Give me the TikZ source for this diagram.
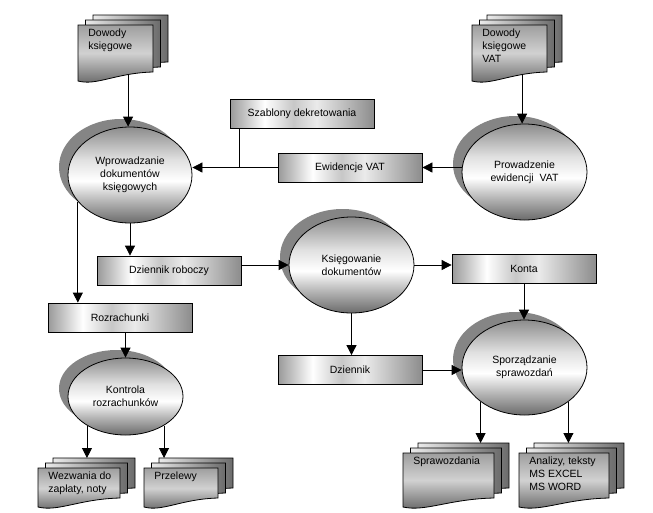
\documentclass[tikz,border=0pt]{standalone}
\usepackage{fontspec}
\setmainfont{Liberation Sans}
\usetikzlibrary{arrows.meta,shadows,shapes.geometric}

\pgfdeclareverticalshading{ellshade}{100bp}{color(0bp)=(black!58); color(25bp)=(black!58);
  color(36bp)=(black!30); color(47bp)=(white); color(58bp)=(black!12); color(75bp)=(black!45); color(100bp)=(black!45)}
\pgfdeclarehorizontalshading{barshade}{100bp}{color(0bp)=(black!40); color(25bp)=(black!40);
  color(37bp)=(white); color(47bp)=(black!22); color(55bp)=(black!8); color(75bp)=(black!45); color(100bp)=(black!45)}
\pgfdeclareverticalshading{frontshade}{100bp}{color(0bp)=(black!62); color(25bp)=(black!62);
  color(52bp)=(black!18); color(75bp)=(black!38); color(100bp)=(black!38)}
\pgfdeclarehorizontalshading{backshade}{100bp}{color(0bp)=(black!8); color(25bp)=(black!8);
  color(75bp)=(black!58); color(100bp)=(black!58)}

\newcommand{\docstack}[6]{%
  \foreach \off in {2,1}
    \path[backsheet] (#2+7.5*\off,#3-5*\off) -- ++(#4,0) -- ++(0,#5-9)
      .. controls (#2+7.5*\off+0.5*#4,#3-5*\off+#5-8) and (#2+7.5*\off+0.25*#4,#3-5*\off+#5+5)
      .. (#2+7.5*\off,#3-5*\off+#5) -- cycle;
  \path[frontsheet] (#2,#3) -- ++(#4,0) -- ++(0,#5-9)
    .. controls (#2+0.5*#4,#3+#5-8) and (#2+0.25*#4,#3+#5+5)
    .. (#2,#3+#5) coordinate[pos=0.25] (#1out) -- cycle;
  \node[doctext] at (#2+8,#3+1) {#6};
  \node[inner sep=0,minimum width=#4,minimum height=5,anchor=north west] (#1b) at (#2+15,#3-10) {};
}

\begin{document}
\begin{tikzpicture}[x=1pt,y=-1pt,line width=0.8pt,
  every node/.style={font=\fontsize{10.5}{13}\selectfont},
  proc/.style={ellipse,draw,shading=ellshade,align=center,inner sep=1pt,
    general shadow={shadow xshift=-9pt,shadow yshift=8pt,fill=black!48}},
  bar/.style={rectangle,draw,shading=barshade,minimum width=144,minimum height=29,inner sep=1pt},
  frontsheet/.style={draw,shading=frontshade},
  backsheet/.style={draw,shading=backshade},
  doctext/.style={anchor=north west,align=left,inner sep=2pt},
  arr/.style={-{Triangle[length=10pt,width=10pt]}}]
\useasboundingbox (0,0) rectangle (653,512);

\docstack{dk}{78}{25}{75}{56}{Dowody\\księgowe}
\docstack{dkv}{472}{25}{75}{56}{Dowody\\księgowe\\VAT}
\docstack{wez}{38}{468}{82}{39}{Wezwania do\\zapłaty, noty}
\docstack{prz}{144}{468}{74}{39}{Przelewy}
\docstack{sprw}{403}{453}{91}{54}{Sprawozdania}
\docstack{anl}{519}{453}{90}{54}{Analizy, teksty\\MS EXCEL\\MS WORD}

\node[proc,minimum width=124,minimum height=96] (wpr) at (130,175) {Wprowadzanie\\dokumentów\\księgowych};
\node[proc,minimum width=125,minimum height=96] (pro) at (524.5,172) {Prowadzenie\\ewidencji\ \ VAT};
\node[proc,minimum width=125,minimum height=96] (ksi) at (351.5,265) {Księgowanie\\dokumentów};
\node[proc,minimum width=125,minimum height=95] (spor) at (524.5,367.5) {Sporządzanie\\sprawozdań};
\node[proc,minimum width=115,minimum height=77] (kon) at (125.5,396.5) {Kontrola\\rozrachunków};

\node[bar] (sza) at (302,113.5) {Szablony dekretowania};
\node[bar] (ewv) at (350,167.5) {Ewidencje VAT};
\node[bar] (dzr) at (169,270.5) {Dziennik roboczy};
\node[bar] (roz) at (120,317.5) {Rozrachunki};
\node[bar] (kta) at (524,269) {Konta};
\node[bar] (dzn) at (350,370) {Dziennik};

\draw[arr] (dkout) -- (dkout |- wpr.north);
\draw[arr] (dkvout) -- (dkvout |- pro.north);
\draw[arr] (ewv.east -| pro.west) -- (ewv.east);
\draw[arr] (ewv.west) -- (ewv.west -| wpr.east);
\draw ([xshift=10pt]sza.south west) -- ([xshift=10pt]sza.south west |- ewv.west);
\draw[arr] (wpr.south) -- (wpr.south |- dzr.north);
\draw[arr] (wpr.207) -- (wpr.207 |- roz.north);
\draw[arr] (ksi.west -| dzr.east) -- (ksi.west);
\draw[arr] (ksi.east) -- (ksi.east -| kta.west);
\draw[arr] (kta.south) -- (kta.south |- spor.north);
\draw[arr] (ksi.south) -- (ksi.south |- dzn.north);
\draw[arr] (dzn.east) -- (dzn.east -| spor.west);
\draw[arr] (kon.north |- roz.south) -- (kon.north);
\draw[arr] (kon.217) -- (kon.217 |- wezb.north);
\draw[arr] (kon.323) -- (kon.323 |- przb.north);
\draw[arr] (spor.218) -- (spor.218 |- sprwb.north);
\draw[arr] (spor.322) -- (spor.322 |- anlb.north);
\end{tikzpicture}
\end{document}
